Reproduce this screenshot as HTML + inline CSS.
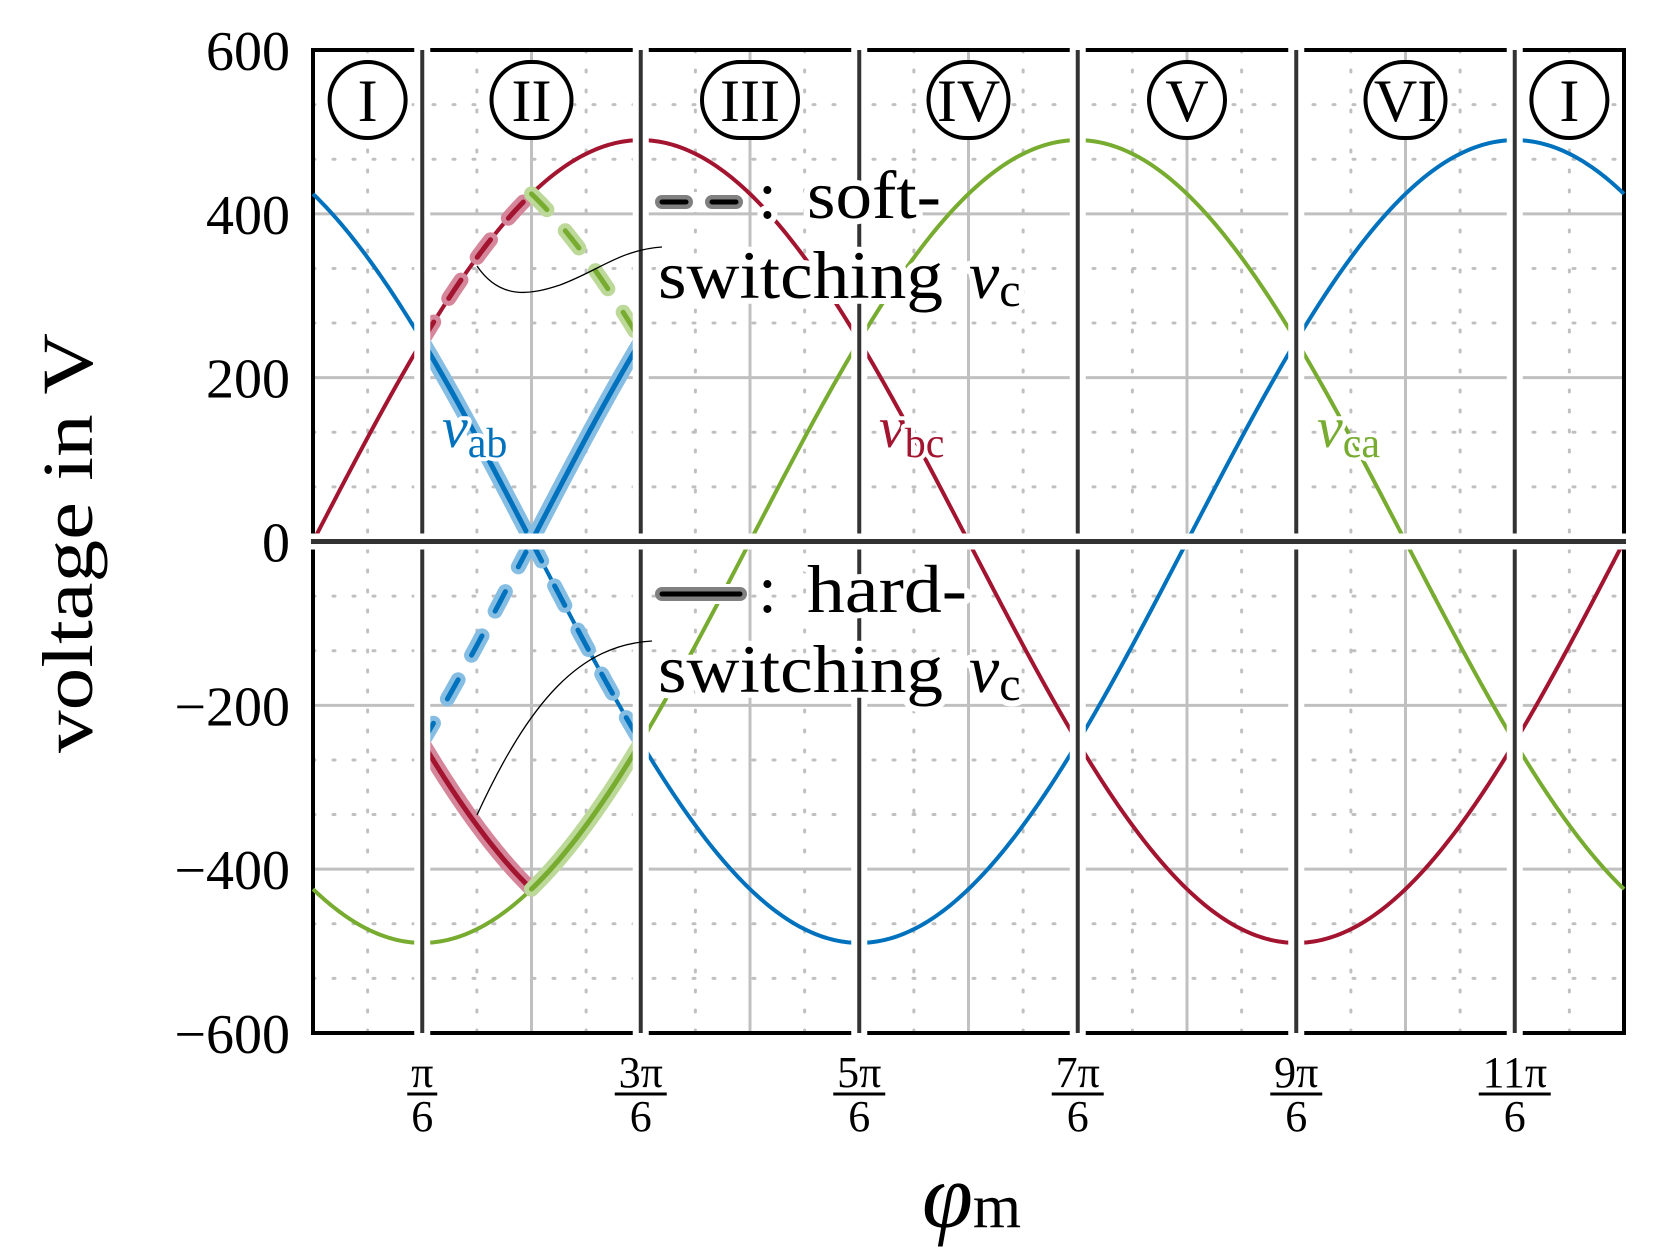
<!DOCTYPE html>
<html><head><meta charset="utf-8"><style>
html,body{margin:0;padding:0;background:#fff}
svg{display:block}
text{font-family:"Liberation Serif",serif}
</style></head><body>
<svg id="chart" width="1669" height="1255" viewBox="0 0 1669 1255" xmlns="http://www.w3.org/2000/svg"></svg>
<script>
// ---- data ----
const peakVoltage = [490, 490, 490];           // amplitudes of v_ab, v_bc, v_ca
const phaseShift = [4, 0, 8];                   // in units of pi/6 (v = A sin(phi + shift))
const seriesNames = ['v-ab', 'v-bc', 'v-ca'];
const seriesColors = ['#0072BD', '#A2142F', '#77AC30'];
const seriesLight = ['#86bde3', '#d5869a', '#bcd99a'];
const sectorBounds = [0, 1, 3, 5, 7, 9, 11, 12];  // pi/6 units
const sectorLabels = ['I', 'II', 'III', 'IV', 'V', 'VI', 'I'];
const yTicks = [600, 400, 200, 0, -200, -400, -600];
const yTickLabels = ['600', '400', '200', '0', '−200', '−400', '−600'];
const xTicks = [1, 3, 5, 7, 9, 11];
const xTickNums = ['π', '3π', '5π', '7π', '9π', '11π'];
// highlighted region-II traces: series index, sign, from, to, dashed
const hlSeries = [1, 2, 0, 0, 0, 0, 1, 2];
const hlSign = [1, -1, 1, -1, -1, 1, -1, 1];
const hlFrom = [1, 2, 1, 2, 1, 2, 1, 2];
const hlTo = [2, 3, 2, 3, 2, 3, 2, 3];
const hlDashed = [1, 1, 0, 0, 1, 1, 0, 0];

// ---- axes ----
const L = 313, R = 1624, T = 50, B = 1033;
const xs = u => L + (u / 12) * (R - L);
const ys = v => T + (600 - v) / 1200 * (B - T);
const NS = 'http://www.w3.org/2000/svg';
const svg = document.getElementById('chart');
function mk(tag, attrs, parent) {
  const e = document.createElementNS(NS, tag);
  for (const k in attrs) e.setAttribute(k, attrs[k]);
  (parent || svg).appendChild(e);
  return e;
}
const val = (i, u) => peakVoltage[i] * Math.sin((u + phaseShift[i]) * Math.PI / 6);
function pathFor(i, sign, a, b) {
  let d = '';
  const n = 60;
  for (let k = 0; k <= n; k++) {
    const u = a + (b - a) * k / n;
    d += (k ? 'L' : 'M') + xs(u).toFixed(2) + ',' + ys(sign * val(i, u)).toFixed(2);
  }
  return d;
}

// grid
const grid = mk('g', {});


for (let k = 1; k < 18; k++) {
  const v = -600 + k * 200 / 3;
  if (Math.abs(v) < 1e-6) continue;
  const major = k % 3 === 0;
  mk('line', {x1: L, x2: R, y1: ys(v), y2: ys(v), stroke: '#c0c0c0', 'stroke-width': 3,
    'stroke-dasharray': major ? 'none' : '2 18', 'stroke-linecap': major ? 'butt' : 'round'}, grid);
}
for (let k = 1; k < 24; k++) {
  const u = k / 2;
  if (k % 2 === 1) {
    mk('line', {x1: xs(u), x2: xs(u), y1: T, y2: B, stroke: '#c0c0c0', 'stroke-width': 3,
      'stroke-dasharray': '2 18', 'stroke-linecap': 'round'}, grid);
  } else if ((k / 2) % 2 === 0) {
    mk('line', {x1: xs(u), x2: xs(u), y1: T, y2: B, stroke: '#c0c0c0', 'stroke-width': 3}, grid);
  }
}

// border
const border = mk('rect', {x: L, y: T, width: R - L, height: B - T, fill: 'none', stroke: '#000', 'stroke-width': 4});



// thin curves
const curves = mk('g', {fill: 'none', 'stroke-width': 4});


for (let i = 0; i < 3; i++) {
  for (let s = 0; s < sectorBounds.length - 1; s++) {
    const p = mk('path', {d: pathFor(i, 1, sectorBounds[s], sectorBounds[s + 1]), stroke: seriesColors[i]}, curves);
    
    
  }
}
// highlights
const hl = mk('g', {fill: 'none', 'stroke-linecap': 'round'});


for (let j = 0; j < hlSeries.length; j++) {
  const i = hlSeries[j];
  const d = pathFor(i, hlSign[j], hlFrom[j], hlTo[j]);
  const dash = hlDashed[j] ? '22 28' : 'none';
  const p1 = mk('path', {d, stroke: seriesLight[i], 'stroke-width': 15, 'stroke-dasharray': dash}, hl);
  
  
  const p2 = mk('path', {d, stroke: seriesColors[i], 'stroke-width': 5, 'stroke-dasharray': dash}, hl);
  
  
}

// dividers
for (let s = 1; s < sectorBounds.length - 1; s++) {
  const x = xs(sectorBounds[s]);
  mk('line', {x1: x, x2: x, y1: T - 3, y2: B + 3, stroke: '#fff', 'stroke-width': 16});
  const dl = mk('line', {x1: x, x2: x, y1: T, y2: B, stroke: '#333', 'stroke-width': 4});
  
  
}
// zero line
mk('line', {x1: L - 2, x2: R + 2, y1: ys(0), y2: ys(0), stroke: '#fff', 'stroke-width': 16});
const zl = mk('line', {x1: L - 2, x2: R + 2, y1: ys(0), y2: ys(0), stroke: '#333', 'stroke-width': 5});



// sector labels
for (let s = 0; s < sectorLabels.length; s++) {
  const cx = xs((sectorBounds[s] + sectorBounds[s + 1]) / 2);
  const lab = sectorLabels[s];
  const w = lab.length === 1 ? 76 : (lab.length === 2 ? 80 : 96);
  const g = mk('g', {});
  
  
  mk('rect', {x: cx - w / 2, y: 62, width: w, height: 76, rx: 38, ry: 38, fill: '#fff', stroke: '#000', 'stroke-width': 4}, g);
  const t = mk('text', {x: cx, y: 121, 'text-anchor': 'middle', 'font-size': 60}, g);
  t.textContent = lab;
}

// y tick labels
for (let k = 0; k < yTicks.length; k++) {
  const t = mk('text', {x: 290, y: ys(yTicks[k]) + 20, 'text-anchor': 'end', 'font-size': 56});
  t.textContent = yTickLabels[k];
  
  
}
// x tick labels
for (let k = 0; k < xTicks.length; k++) {
  const x = xs(xTicks[k]);
  const g = mk('g', {});
  
  
  const t = mk('text', {x, y: 1087, 'text-anchor': 'middle', 'font-size': 44}, g);
  t.textContent = xTickNums[k];
  const hw = xTickNums[k].length > 2 ? 36 : (xTickNums[k].length > 1 ? 26 : 15);
  mk('line', {x1: x - hw, x2: x + hw, y1: 1094, y2: 1094, stroke: '#000', 'stroke-width': 3}, g);
  const t2 = mk('text', {x, y: 1131, 'text-anchor': 'middle', 'font-size': 44}, g);
  t2.textContent = '6';
}
</script>
<svg style="position:absolute;left:0;top:0" width="1669" height="1255" xmlns="http://www.w3.org/2000/svg">
  <text transform="translate(92,543) rotate(-90)" text-anchor="middle" font-family="Liberation Serif, serif" font-size="72" textLength="420" lengthAdjust="spacingAndGlyphs">voltage in V</text>
  <text x="922" y="1227" font-family="Liberation Serif, serif" font-size="92"><tspan font-style="italic">φ</tspan><tspan font-size="62">m</tspan></text>
  <g font-family="Liberation Serif, serif" stroke="#fff" stroke-width="8" paint-order="stroke" stroke-linejoin="round">
    <text x="442" y="447" fill="#0072BD" font-size="58"><tspan font-style="italic">v</tspan><tspan font-size="42" dy="10">ab</tspan></text>
    <text x="879" y="447" fill="#A2142F" font-size="58"><tspan font-style="italic">v</tspan><tspan font-size="42" dy="10">bc</tspan></text>
    <text x="1317" y="447" fill="#77AC30" font-size="58"><tspan font-style="italic">v</tspan><tspan font-size="42" dy="10">ca</tspan></text>
  </g>
  <g>
    <path d="M477,266 C500,300 530,295 560,285 C600,270 620,250 662,247" fill="none" stroke="#000" stroke-width="1.3"/>
    <line x1="662" y1="202" x2="745" y2="202" stroke="#fff" stroke-width="20"/>
    <line x1="662" y1="202" x2="740" y2="202" stroke="#808080" stroke-width="14" stroke-linecap="round" stroke-dasharray="24 26"/>
    <line x1="662" y1="202" x2="740" y2="202" stroke="#000" stroke-width="5" stroke-linecap="round" stroke-dasharray="24 26"/>
    <g font-family="Liberation Serif, serif" font-size="68" stroke="#fff" stroke-width="12" paint-order="stroke" stroke-linejoin="round">
      <text x="758" y="218">:</text>
      <text x="807" y="218" textLength="134" lengthAdjust="spacingAndGlyphs">soft-</text>
      <text x="658" y="298" textLength="285" lengthAdjust="spacingAndGlyphs">switching</text>
      <text x="969" y="298"><tspan font-style="italic">v</tspan><tspan font-size="48" dy="8">c</tspan></text>
    </g>
  </g>
  <g>
    <path d="M477,815 C530,700 580,645 652,641" fill="none" stroke="#000" stroke-width="1.3"/>
    <line x1="662" y1="594" x2="745" y2="594" stroke="#fff" stroke-width="20"/>
    <line x1="662" y1="594" x2="740" y2="594" stroke="#808080" stroke-width="14" stroke-linecap="round"/>
    <line x1="662" y1="594" x2="740" y2="594" stroke="#000" stroke-width="5" stroke-linecap="round"/>
    <g font-family="Liberation Serif, serif" font-size="68" stroke="#fff" stroke-width="12" paint-order="stroke" stroke-linejoin="round">
      <text x="758" y="612">:</text>
      <text x="807" y="612" textLength="160" lengthAdjust="spacingAndGlyphs">hard-</text>
      <text x="658" y="692" textLength="285" lengthAdjust="spacingAndGlyphs">switching</text>
      <text x="969" y="692"><tspan font-style="italic">v</tspan><tspan font-size="48" dy="8">c</tspan></text>
    </g>
  </g>
</svg>
</body></html>
